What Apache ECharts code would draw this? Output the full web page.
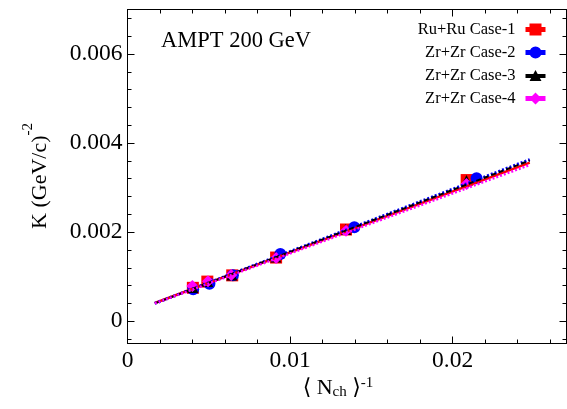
<!DOCTYPE html>
<html>
<head>
<meta charset="utf-8">
<script src="https://cdn.jsdelivr.net/npm/echarts@6/dist/echarts.min.js"></script>
<style>
  html, body { margin: 0; padding: 0; background: #fff; }
  #chart { width: 567px; height: 409px; }
</style>
</head>
<body>
<div id="chart"></div>
<script>
// legend names
const seriesNames = ['Ru+Ru Case-1', 'Zr+Zr Case-2', 'Zr+Zr Case-3', 'Zr+Zr Case-4']
const seriesColors = ['#ff0000', '#0000ff', '#000000', '#ff00ff']

// points [<Nch>^-1, K]
const case1Points = [[0.00402, 0.00075], [0.00491, 0.00089], [0.00644, 0.00103], [0.00914, 0.00143], [0.01344, 0.00206], [0.02086, 0.00317]]
const case2Points = [[0.00404, 0.00072], [0.00504, 0.00084], [0.00648, 0.00103], [0.00940, 0.00151], [0.01395, 0.00211], [0.02147, 0.00321]]
const case3Points = [[0.00402, 0.00076], [0.00493, 0.00089], [0.00642, 0.00104], [0.00912, 0.00144], [0.01342, 0.00206], [0.02085, 0.00316]]
const case4Points = [[0.00399, 0.00079], [0.00495, 0.00090], [0.00638, 0.00104], [0.00914, 0.00142], [0.01344, 0.00203], [0.02085, 0.00308]]

// fit lines (end points)
const case1Fit = [[0.00168, 0.00041], [0.02474, 0.00356]]
const case2Fit = [[0.00168, 0.00040], [0.02474, 0.00363]]
const case3Fit = [[0.00168, 0.00040], [0.02474, 0.00361]]
const case4Fit = [[0.00168, 0.00040], [0.02474, 0.00351]]

// axis ticks
const xMajorTicks = [0, 0.01, 0.02]
const xMinorTicks = [0.002, 0.004, 0.006, 0.008, 0.012, 0.014, 0.016, 0.018, 0.022, 0.024, 0.026]
const yMajorTicks = [0, 0.002, 0.004, 0.006]
const yMinorTicks = [-0.0004, 0.0004, 0.0008, 0.0012, 0.0016, 0.0024, 0.0028, 0.0032, 0.0036, 0.0044, 0.0048, 0.0052, 0.0056, 0.0064, 0.0068]

const FONT = '"Liberation Serif", "DejaVu Serif", serif'
const X_MIN = 0, X_MAX = 0.027
const Y_MIN = -0.0005, Y_MAX = 0.007

const legendIcons = [
  'path://M0,3.5 H20 V8.5 H0 Z M4,0 H16 V12 H4 Z',
  'path://M0,3.5 H20 V8.5 H0 Z M16,6 A6,6 0 1 1 4,6 A6,6 0 1 1 16,6 Z',
  'path://M0,4 H20 V8 H0 Z M10,0 L16,11 L4,11 Z',
  'path://M0,3.5 H20 V8.5 H0 Z M10,0 L16,6 L10,12 L4,6 Z'
]

const makeXAxis = (position, ticks, len, showLabel, showLine) => ({
  type: 'value', position, min: X_MIN, max: X_MAX,
  axisLine: { show: showLine, onZero: false, lineStyle: { color: '#000', width: 1 } },
  axisTick: { show: true, inside: true, length: len, customValues: ticks, lineStyle: { color: '#000' } },
  axisLabel: {
    show: showLabel, customValues: ticks, margin: 5,
    color: '#000', fontFamily: FONT, fontSize: 23.5
  },
  splitLine: { show: false }
})

const makeYAxis = (position, ticks, len, showLabel, showLine) => ({
  type: 'value', position, min: Y_MIN, max: Y_MAX,
  axisLine: { show: showLine, onZero: false, lineStyle: { color: '#000', width: 1 } },
  axisTick: { show: true, inside: true, length: len, customValues: ticks, lineStyle: { color: '#000' } },
  axisLabel: {
    show: showLabel, customValues: ticks, margin: 5,
    color: '#000', fontFamily: FONT, fontSize: 23.5
  },
  splitLine: { show: false }
})

const chart = echarts.init(document.getElementById('chart'))

const pointSeries = [case1Points, case2Points, case3Points, case4Points]
const fitSeries = [case1Fit, case2Fit, case3Fit, case4Fit]
const symbols = ['rect', 'circle', 'triangle', 'diamond']
const symbolSizes = [12, 12, 11, 12]
const fitStyles = [
  { type: 'solid', width: 2.5 },
  { type: [2, 2], width: 3 },
  { type: [5, 3], width: 2 },
  { type: [2, 2], width: 2.5 }
]

chart.setOption({
  animation: false,
  backgroundColor: '#fff',
  grid: { left: 127.5, top: 9.5, width: 439, height: 334 },
  xAxis: [
    makeXAxis('bottom', xMajorTicks, 7, true, true),
    makeXAxis('bottom', xMinorTicks, 4, false, false),
    makeXAxis('top', xMajorTicks, 7, false, true),
    makeXAxis('top', xMinorTicks, 4, false, false)
  ],
  yAxis: [
    makeYAxis('left', yMajorTicks, 7, true, true),
    makeYAxis('left', yMinorTicks, 4, false, false),
    makeYAxis('right', yMajorTicks, 7, false, true),
    makeYAxis('right', yMinorTicks, 4, false, false)
  ],
  legend: {
    orient: 'vertical',
    right: 16.5,
    top: 16,
    align: 'right',
    itemWidth: 20,
    itemHeight: 12,
    itemGap: 6,
    selectedMode: false,
    textStyle: { color: '#000', fontFamily: FONT, fontSize: 16.5, lineHeight: 17, padding: [0, 5, 0, 0] },
    data: seriesNames.map((name, i) => ({ name, icon: legendIcons[i] }))
  },
  graphic: [
    {
      type: 'text', left: 161, top: 30,
      style: { text: 'AMPT 200 GeV', fill: '#000', font: '22.5px ' + FONT }
    },
    {
      type: 'text', x: 36, y: 176, rotation: Math.PI / 2,
      style: {
        text: '{m|K (GeV/c)}{sup|-2}',
        align: 'center', verticalAlign: 'middle',
        rich: {
          m: { fontFamily: FONT, fontSize: 22, lineHeight: 30, fill: '#000', verticalAlign: 'bottom' },
          sup: { fontFamily: FONT, fontSize: 15, lineHeight: 15, fill: '#000', verticalAlign: 'top' }
        }
      }
    },
    {
      type: 'text', x: 338, y: 388,
      style: {
        text: '{m|\u27E8 N}{sub|ch}{m| \u27E9}{sup|-1}',
        align: 'center', verticalAlign: 'middle',
        rich: {
          m: { fontFamily: FONT, fontSize: 22, lineHeight: 24, fill: '#000' },
          sub: { fontFamily: FONT, fontSize: 15, lineHeight: 15, fill: '#000', verticalAlign: 'bottom' },
          sup: { fontFamily: FONT, fontSize: 15, lineHeight: 15, fill: '#000', verticalAlign: 'top' }
        }
      }
    }
  ],
  series: [
    ...pointSeries.map((pts, i) => ({
      name: seriesNames[i],
      type: 'scatter',
      xAxisIndex: 0, yAxisIndex: 0,
      symbol: symbols[i],
      symbolSize: symbolSizes[i],
      itemStyle: { color: seriesColors[i], opacity: 1 },
      data: pts,
      z: 2
    })),
    ...fitSeries.map((pts, i) => ({
      name: 'fit' + (i + 1),
      type: 'line',
      xAxisIndex: 0, yAxisIndex: 0,
      showSymbol: false,
      lineStyle: { color: seriesColors[i], width: fitStyles[i].width, type: fitStyles[i].type },
      data: pts,
      z: 3
    }))
  ]
})
</script>
</body>
</html>
